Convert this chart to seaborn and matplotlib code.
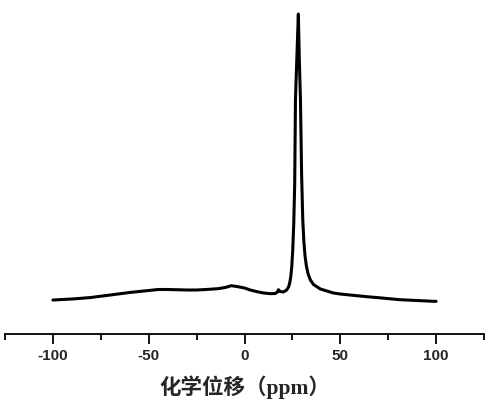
import matplotlib
matplotlib.use("Agg")
import matplotlib.pyplot as plt
import seaborn as sns
import pandas as pd
from matplotlib.ticker import FixedLocator

# Chemical shift (ppm) and intensity (arbitrary units)
shift_ppm = [-100, -90, -80, -77, -70, -60, -50, -45, -40, -30, -25, -20, -14, -10,
             -7, -4, 0, 3, 6.6, 10, 13.5, 16, 17.2, 17.7, 18.5, 20.3, 22, 23, 23.6, 24.2,
             24.7, 25.2, 25.7, 26.2, 26.6, 27.3, 28.1, 28.6, 29.2, 29.8, 30.4, 31.0,
             31.6, 32.3, 33.2, 34.4, 36, 39.6, 46.4, 50, 55, 63.9, 70, 81, 90, 98.4, 100]
intensity = [34, 35, 36.5, 37.3, 39, 41.5, 43.5, 44.5, 44.5, 44, 44, 44.5, 45.3, 46.5,
             48.3, 47.5, 46, 44, 42.3, 41, 40.3, 40.5, 42, 44.3, 42.5, 42, 44, 47, 51, 58,
             68, 85, 110, 150, 235, 275, 320, 275, 235, 160, 115, 92,
             78, 68, 60, 54, 49.5, 45, 41, 40, 39, 37.3, 36.3, 34.3, 33.5, 32.7, 32.7]

major_ticks = [-100, -50, 0, 50, 100]
minor_ticks = [-125, -75, -25, 25, 75, 125]
xlabel_text = "化学位移（ppm）"

df = pd.DataFrame({"shift": shift_ppm, "intensity": intensity})

sns.set_style("white")
plt.rcParams["font.family"] = ["Liberation Sans", "Noto Sans CJK SC", "DejaVu Sans"]

fig = plt.figure(figsize=(5.0, 4.1), dpi=100)
ax = fig.add_axes([0.01, 1 - 335 / 410, 0.958, 330 / 410])

sns.lineplot(data=df, x="shift", y="intensity", color="black", linewidth=2.2,
             sort=False, ax=ax)

ax.set_xlim(-125, 125)
ax.set_ylim(0, 330)

for s in ["top", "right", "left"]:
    ax.spines[s].set_visible(False)
ax.spines["bottom"].set_linewidth(1.3)
ax.spines["bottom"].set_color("black")

ax.set_yticks([])
ax.xaxis.set_major_locator(FixedLocator(major_ticks))
ax.xaxis.set_minor_locator(FixedLocator(minor_ticks))
ax.tick_params(axis="x", which="major", direction="out", length=7, width=1.3,
               color="black", bottom=True, pad=3)
ax.tick_params(axis="x", which="minor", direction="out", length=4, width=1.3,
               color="black", bottom=True)
ax.set_xticklabels([str(t) for t in major_ticks], fontsize=11,
                   fontweight="bold", family=["Liberation Sans"])

ax.set_xlabel(xlabel_text, fontsize=15.5, fontweight="bold",
              family=["Liberation Serif", "Noto Sans CJK SC"], labelpad=9)
ax.set_ylabel("")

fig.savefig("out.png", dpi=100, facecolor="white")
